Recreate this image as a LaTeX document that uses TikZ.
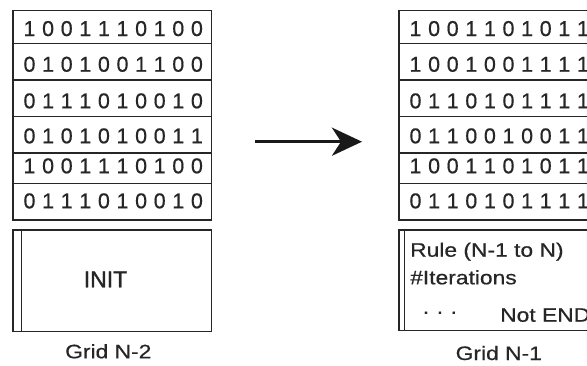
\documentclass[tikz,border=0pt]{standalone}
\usepackage{fontspec}
\setmainfont[FakeBold=0.5]{Liberation Sans}
\newfontfamily\labelfont[FakeStretch=1.17,FakeBold=0.5]{Liberation Sans}
\newfontfamily\headfont[FakeBold=1.2]{Liberation Sans}
\usetikzlibrary{arrows.meta}

\begin{document}
\begin{tikzpicture}[x=1pt,y=-1pt]
\tikzset{
  frame/.style={draw=black!85, line width=1.4pt, inner sep=0pt, anchor=north west,
                minimum width=198.7pt},
  divider/.style={draw=black!85, line width=1.4pt},
  bit/.style={font=\fontsize{21.5}{21.5}\selectfont, inner sep=0pt, anchor=base, text=black!85},
  caption/.style={font=\labelfont\fontsize{19.5}{19.5}\selectfont, inner sep=0pt, anchor=base, text=black!85},
  boxtext/.style={caption, anchor=base west},
  flow/.style={line width=3.5pt, black!90, -{Stealth[length=30pt,width=28pt,inset=9pt]}}
}
\useasboundingbox[fill=white] (0,0) rectangle (587,365);
\clip (0,0) rectangle (587,365);

% ---- left grid (N-2) ----
\foreach \top/\h/\base/\bits [count=\r] in {
   10/32.7/36/{1,0,0,1,1,1,0,1,0,0},
   42.7/36.6/71.7/{0,1,0,1,0,0,1,1,0,0},
   79.3/36.7/108.3/{0,1,1,1,0,1,0,0,1,0},
   116/36.3/143.3/{0,1,0,1,0,1,0,0,1,1},
   152.3/30.4/173.3/{1,0,0,1,1,1,0,1,0,0},
   182.7/36.6/208.3/{0,1,1,1,0,1,0,0,1,0}} {
  \node[frame, minimum height=\h pt] (L\r) at (12.3,\top) {};
  \foreach \b [count=\c from 0] in \bits
    \node[bit] (L\r-\c) at (29.5+18.6*\c,\base) {\b};
}

% ---- right grid (N-1) ----
\foreach \top/\h/\base/\bits [count=\r] in {
   10/32.7/36/{1,0,0,1,1,0,1,0,1,1},
   42.7/36.6/71.7/{1,0,0,1,0,0,1,1,1,1},
   79.3/36.7/108.3/{0,1,1,0,1,0,1,1,1,1},
   116/36.3/143.3/{0,1,1,0,0,1,0,0,1,1},
   152.3/30.4/173.3/{1,0,0,1,1,0,1,0,1,1},
   182.7/36.6/208.3/{0,1,1,0,1,0,1,1,1,1}} {
  \node[frame, minimum height=\h pt] (R\r) at (398.3,\top) {};
  \foreach \b [count=\c from 0] in \bits
    \node[bit] (R\r-\c) at (415.5+18.6*\c,\base) {\b};
}

% ---- state boxes ----
\node[frame, minimum height=101.7pt] (Lstate) at (12.3,229.3) {};
\draw[divider] ([xshift=9pt]Lstate.north west) -- ([xshift=9pt]Lstate.south west);
\node[inner sep=0pt, anchor=base, text=black!85, font=\headfont\fontsize{23}{23}\selectfont] (initlabel) at (105.5,287.3) {INIT};

\node[frame, minimum height=100.7pt] (Rstate) at (398.3,229.3) {};
\draw[divider] ([xshift=6pt]Rstate.north west) -- ([xshift=6pt]Rstate.south west);
\node[boxtext] (rule) at (410,256.7) {Rule (N-1 to N)};
\node[boxtext] (iters) at (410,284.3) {\#Iterations};
\node[boxtext] (dots) at (422,318) {· · ·};
\node[boxtext] (notend) at (500,321.7) {Not END};

% ---- captions ----
\node[caption] (capL) at (108.3,358.3) {Grid N-2};
\node[caption] (capR) at (498.8,360) {Grid N-1};

% ---- transition arrow ----
\coordinate (arrowfrom) at (255,141.7);
\coordinate (arrowto) at (362,141.7);
\draw[flow] (arrowfrom) -- (arrowto);
\end{tikzpicture}
\end{document}
